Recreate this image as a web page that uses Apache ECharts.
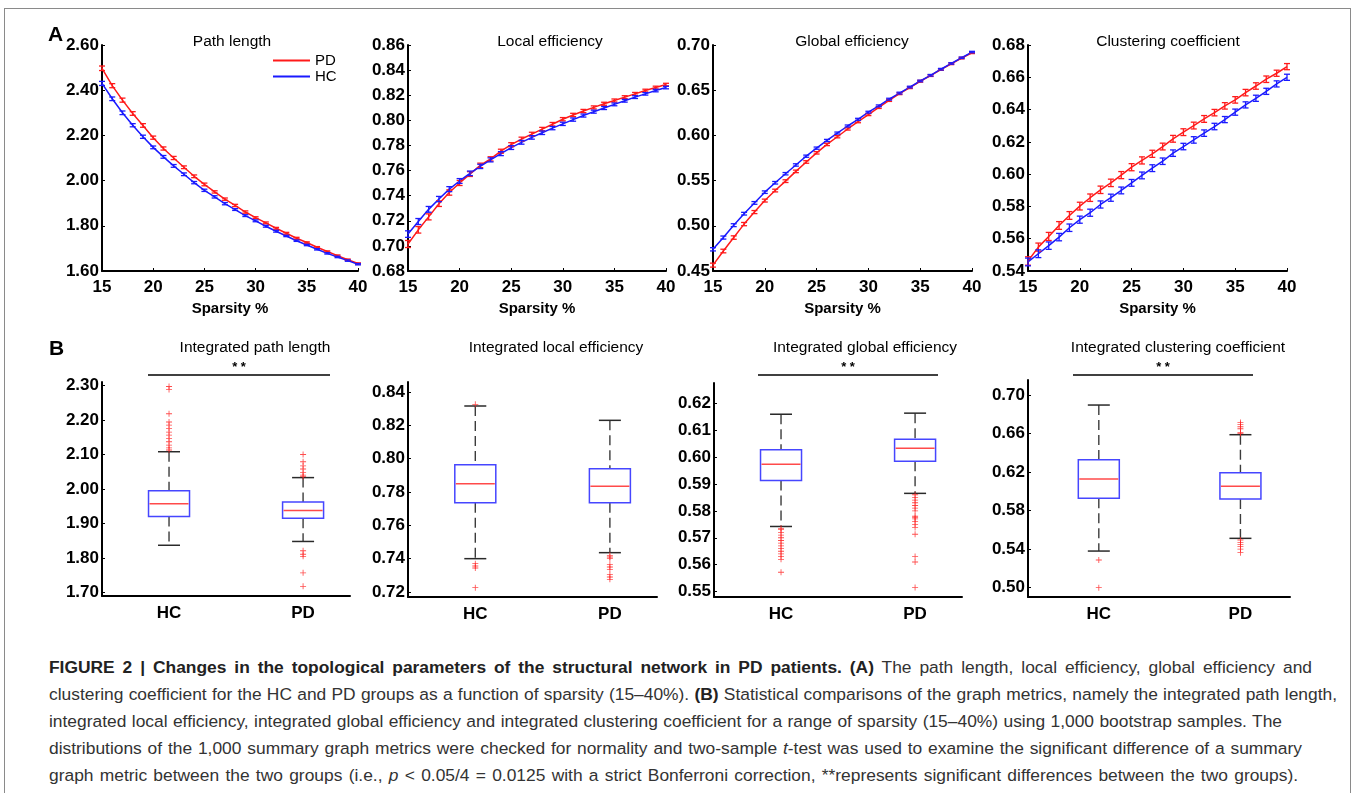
<!DOCTYPE html>
<html>
<head>
<meta charset="utf-8">
<script src="https://cdn.jsdelivr.net/npm/echarts@6/dist/echarts.min.js"></script>
<style>
html,body{margin:0;padding:0;background:#fff;}
#frame{position:absolute;left:4px;top:8px;width:1347px;height:900px;border:1px solid #8a8a8a;box-sizing:border-box;}
#chart{position:absolute;left:0;top:0;width:1355px;height:640px;}
#caption{position:absolute;left:49px;top:654px;font-family:"Liberation Sans",Arial,sans-serif;font-size:17.4px;line-height:27px;color:#333;white-space:nowrap;}
#caption b{color:#222;}
#caption .ln{display:inline-block;}
</style>
</head>
<body>
<div id="frame"></div>
<div id="chart"></div>
<div id="caption">
<span class="ln" data-r="1312"><b>FIGURE 2 | Changes in the topological parameters of the structural network in PD patients. (A)</b> The path length, local efficiency, global efficiency and</span><br>
<span class="ln" data-r="1337">clustering coefficient for the HC and PD groups as a function of sparsity (15–40%). <b>(B)</b> Statistical comparisons of the graph metrics, namely the integrated path length,</span><br>
<span class="ln" data-r="1282">integrated local efficiency, integrated global efficiency and integrated clustering coefficient for a range of sparsity (15–40%) using 1,000 bootstrap samples. The</span><br>
<span class="ln" data-r="1302">distributions of the 1,000 summary graph metrics were checked for normality and two-sample <i>t</i>-test was used to examine the significant difference of a summary</span><br>
<span class="ln" data-r="1298">graph metric between the two groups (i.e., <i>p</i> &lt; 0.05/4 = 0.0125 with a strict Bonferroni correction, **represents significant differences between the two groups).</span>
</div>
<script>
// ---------- DATA ----------
const sparsity = [15,16,17,18,19,20,21,22,23,24,25,26,27,28,29,30,31,32,33,34,35,36,37,38,39,40];
const groupNames = ['PD','HC'];

const pathPD = [2.497,2.420,2.356,2.297,2.244,2.190,2.142,2.100,2.059,2.019,1.983,1.950,1.918,1.890,1.861,1.836,1.813,1.789,1.767,1.745,1.726,1.705,1.686,1.668,1.650,1.633];
const pathHC = [2.430,2.362,2.300,2.245,2.194,2.147,2.105,2.065,2.028,1.991,1.957,1.928,1.898,1.872,1.845,1.822,1.798,1.776,1.755,1.734,1.715,1.696,1.678,1.662,1.646,1.630];
const pathErrPD = [0.010,0.009,0.009,0.008,0.008,0.007,0.007,0.007,0.006,0.006,0.006,0.005,0.005,0.005,0.005,0.004,0.004,0.004,0.004,0.004,0.003,0.003,0.003,0.003,0.003,0.003];
const pathErrHC = [0.009,0.008,0.008,0.007,0.007,0.006,0.006,0.006,0.006,0.005,0.005,0.005,0.005,0.004,0.004,0.004,0.004,0.004,0.003,0.003,0.003,0.003,0.003,0.003,0.003,0.003];

const locPD = [0.7015,0.7128,0.7231,0.7336,0.7425,0.7501,0.7572,0.7641,0.7693,0.7754,0.7806,0.7851,0.7890,0.7930,0.7969,0.8009,0.8043,0.8074,0.8103,0.8132,0.8158,0.8185,0.8211,0.8237,0.8261,0.8285];
const locHC = [0.7094,0.7194,0.7291,0.7373,0.7452,0.7517,0.7578,0.7633,0.7685,0.7735,0.7783,0.7825,0.7864,0.7901,0.7938,0.7972,0.8006,0.8038,0.8069,0.8098,0.8127,0.8156,0.8185,0.8211,0.8237,0.8261];
const locErrPD = [0.0028,0.0026,0.0024,0.0022,0.0021,0.0020,0.0019,0.0018,0.0017,0.0016,0.0016,0.0015,0.0015,0.0014,0.0014,0.0013,0.0013,0.0013,0.0012,0.0012,0.0012,0.0011,0.0011,0.0011,0.0011,0.0010];
const locErrHC = [0.0026,0.0024,0.0023,0.0021,0.0020,0.0019,0.0018,0.0017,0.0016,0.0016,0.0015,0.0015,0.0014,0.0014,0.0013,0.0013,0.0013,0.0012,0.0012,0.0012,0.0011,0.0011,0.0011,0.0010,0.0010,0.0010];

const globPD = [0.4565,0.4721,0.4870,0.5019,0.5152,0.5279,0.5390,0.5494,0.5602,0.5706,0.5807,0.5900,0.5985,0.6071,0.6152,0.6230,0.6309,0.6387,0.6461,0.6528,0.6599,0.6662,0.6729,0.6792,0.6855,0.6914];
const globHC = [0.4740,0.4870,0.5007,0.5134,0.5253,0.5372,0.5476,0.5576,0.5673,0.5770,0.5859,0.5944,0.6026,0.6104,0.6178,0.6257,0.6327,0.6401,0.6468,0.6535,0.6602,0.6665,0.6732,0.6796,0.6859,0.6922];
const globErrPD = [0.0022,0.0020,0.0019,0.0018,0.0017,0.0016,0.0015,0.0015,0.0014,0.0014,0.0013,0.0013,0.0012,0.0012,0.0012,0.0011,0.0011,0.0011,0.0010,0.0010,0.0010,0.0010,0.0009,0.0009,0.0009,0.0009];
const globErrHC = [0.0018,0.0017,0.0016,0.0015,0.0015,0.0014,0.0014,0.0013,0.0013,0.0012,0.0012,0.0012,0.0011,0.0011,0.0011,0.0010,0.0010,0.0010,0.0010,0.0009,0.0009,0.0009,0.0009,0.0008,0.0008,0.0008];

const clusPD = [0.5462,0.5548,0.5614,0.5682,0.5744,0.5802,0.5854,0.5903,0.5946,0.5994,0.6043,0.6085,0.6126,0.6171,0.6219,0.6260,0.6301,0.6342,0.6381,0.6423,0.6460,0.6505,0.6546,0.6588,0.6625,0.6666];
const clusHC = [0.5456,0.5507,0.5557,0.5610,0.5668,0.5718,0.5761,0.5812,0.5854,0.5899,0.5946,0.5992,0.6037,0.6080,0.6130,0.6171,0.6212,0.6254,0.6295,0.6338,0.6384,0.6429,0.6470,0.6513,0.6559,0.6600];
const clusErrPD = [0.0026,0.0025,0.0025,0.0024,0.0024,0.0024,0.0023,0.0023,0.0023,0.0022,0.0022,0.0022,0.0022,0.0021,0.0021,0.0021,0.0021,0.0021,0.0020,0.0020,0.0020,0.0020,0.0020,0.0020,0.0019,0.0019];
const clusErrHC = [0.0024,0.0024,0.0023,0.0023,0.0023,0.0022,0.0022,0.0022,0.0022,0.0021,0.0021,0.0021,0.0021,0.0020,0.0020,0.0020,0.0020,0.0020,0.0020,0.0019,0.0019,0.0019,0.0019,0.0019,0.0019,0.0019];

const boxGroups = ['HC','PD'];
// [lower whisker, Q1, median, Q3, upper whisker] for HC, PD
const pathBox = [[1.837,1.920,1.957,1.995,2.108],[1.848,1.915,1.938,1.962,2.033]];
const pathOutHC = [2.297,2.288,2.218,2.194,2.185,2.175,2.165,2.156,2.146,2.137,2.127,2.119,2.113];
const pathOutPD = [2.100,2.079,2.067,2.058,2.048,2.040,2.036,1.821,1.811,1.805,1.757,1.718];
const locBox = [[0.7400,0.7736,0.7850,0.7964,0.8316],[0.7436,0.7736,0.7834,0.7940,0.8230]];
const locOutHC = [0.8326,0.7370,0.7356,0.7344,0.7226];
const locOutPD = [0.7420,0.7410,0.7400,0.7364,0.7350,0.7336,0.7304,0.7290,0.7276];
const globBox = [[0.5742,0.5913,0.5973,0.6027,0.6159],[0.5865,0.5984,0.6033,0.6066,0.6163]];
const globOutHC = [0.5735,0.5730,0.5720,0.5710,0.5700,0.5690,0.5680,0.5670,0.5660,0.5650,0.5640,0.5630,0.5620,0.5572];
const globOutPD = [0.5860,0.5850,0.5840,0.5830,0.5820,0.5810,0.5800,0.5780,0.5775,0.5770,0.5760,0.5750,0.5738,0.5713,0.5630,0.5610,0.5515];
const clusBox = [[0.5380,0.5927,0.6128,0.6329,0.6896],[0.5512,0.5920,0.6052,0.6194,0.6588]];
const clusOutHC = [0.5287,0.5000];
const clusOutPD = [0.6716,0.6696,0.6671,0.6650,0.6610,0.6600,0.5495,0.5470,0.5450,0.5426,0.5400,0.5363];

const pathTicks = [1.70,1.80,1.90,2.00,2.10,2.20,2.30];
const locTicks = [0.72,0.74,0.76,0.78,0.80,0.82,0.84];
const globTicks = [0.55,0.56,0.57,0.58,0.59,0.60,0.61,0.62];
const clusTicks = [0.50,0.54,0.58,0.62,0.66,0.70];

// ---------- LAYOUT ----------
const FONT = '"Liberation Sans", Arial, sans-serif';
const RED = '#ff1a1a', BLUE = '#1a1aff';

const linePanels = [
  {title:'Path length', left:102, width:256, min:1.6, max:2.6, interval:0.2, pd:pathPD, hc:pathHC, epd:pathErrPD, ehc:pathErrHC, tx:227},
  {title:'Local efficiency', left:408, width:258, min:0.68, max:0.86, interval:0.02, pd:locPD, hc:locHC, epd:locErrPD, ehc:locErrHC, tx:545},
  {title:'Global efficiency', left:713, width:259, min:0.45, max:0.70, interval:0.05, pd:globPD, hc:globHC, epd:globErrPD, ehc:globErrHC, tx:847},
  {title:'Clustering coefficient', left:1028, width:259, min:0.54, max:0.68, interval:0.02, pd:clusPD, hc:clusHC, epd:clusErrPD, ehc:clusErrHC, tx:1163}
];
const boxPanels = [
  {title:'Integrated path length', left:102, width:248, top:382, height:214, min:1.69, max:2.31, ticks:pathTicks, box:pathBox, oh:pathOutHC, op:pathOutPD, tx:250, sig:[148,330]},
  {title:'Integrated local efficiency', left:408, width:249, top:382, height:215, min:0.717, max:0.846, ticks:locTicks, box:locBox, oh:locOutHC, op:locOutPD, tx:551, sig:null},
  {title:'Integrated global efficiency', left:714, width:248, top:383, height:214, min:0.548, max:0.6275, ticks:globTicks, box:globBox, oh:globOutHC, op:globOutPD, tx:860, sig:[758,938]},
  {title:'Integrated clustering coefficient', left:1028, width:262, top:380, height:217, min:0.4903, max:0.7156, ticks:clusTicks, box:clusBox, oh:clusOutHC, op:clusOutPD, tx:1173, sig:[1073,1253]}
];

const grids = [], xAxes = [], yAxes = [], series = [], titles = [], graphics = [];
const axisLineStyle = {show:true, lineStyle:{color:'#000', width:2}};
const labelStyle = {color:'#000', fontFamily:FONT, fontSize:17, fontWeight:'bold'};

function errRender(color){
  return function(params, api){
    const x = api.value(0), y = api.value(1), e = api.value(2);
    const t = api.coord([x, y + e]), b = api.coord([x, y - e]);
    const w = 3;
    const st = {stroke:color, lineWidth:1.3};
    return {type:'group', children:[
      {type:'line', shape:{x1:t[0], y1:t[1], x2:b[0], y2:b[1]}, style:st},
      {type:'line', shape:{x1:t[0]-w, y1:t[1], x2:t[0]+w, y2:t[1]}, style:st},
      {type:'line', shape:{x1:b[0]-w, y1:b[1], x2:b[0]+w, y2:b[1]}, style:st}
    ]};
  };
}

linePanels.forEach((p, i) => {
  grids.push({left:p.left, top:45, width:p.width, height:226});
  xAxes.push({type:'value', gridIndex:i, min:15, max:40, interval:5,
    name:'Sparsity %', nameLocation:'middle', nameGap:30,
    nameTextStyle:{color:'#000', fontFamily:FONT, fontSize:15, fontWeight:'bold'},
    axisLine:axisLineStyle, axisTick:{show:true, inside:true, length:3, lineStyle:{color:'#000'}},
    splitLine:{show:false}, axisLabel:Object.assign({margin:8}, labelStyle)});
  yAxes.push({type:'value', gridIndex:i, min:p.min, max:p.max, interval:p.interval,
    axisLine:axisLineStyle, axisTick:{show:true, inside:true, length:3, lineStyle:{color:'#000'}},
    splitLine:{show:false}, axisLabel:Object.assign({margin:3, formatter:v => v.toFixed(2)}, labelStyle)});
  titles.push({text:p.title, left:p.tx, top:29, textAlign:'center',
    textStyle:{color:'#000', fontFamily:FONT, fontSize:15.5, fontWeight:'normal'}});
  [['PD', p.pd, p.epd, RED], ['HC', p.hc, p.ehc, BLUE]].forEach(([nm, vals, errs, col]) => {
    series.push({type:'line', name:nm, xAxisIndex:i, yAxisIndex:i, showSymbol:false, symbol:'none',
      data: sparsity.map((s, k) => [s, vals[k]]), lineStyle:{color:col, width:1.5}, itemStyle:{color:col},
      silent:true, z:3});
    series.push({type:'custom', name:nm + ' error', xAxisIndex:i, yAxisIndex:i, renderItem:errRender(col),
      data: sparsity.map((s, k) => [s, vals[k], errs[k]]), encode:{x:0, y:1}, silent:true, z:4});
  });
});

function boxRender(params, api){
  const x = api.value(0);
  const lo = api.coord([x, api.value(1)]), q1 = api.coord([x, api.value(2)]),
        md = api.coord([x, api.value(3)]), q3 = api.coord([x, api.value(4)]), hi = api.coord([x, api.value(5)]);
  const cx = lo[0], hw = 20.5, cw = 11;
  const dash = {stroke:'#3c3c3c', lineWidth:1.4, lineDash:[10,5]};
  const cap = {stroke:'#2a2a2a', lineWidth:1.5};
  return {type:'group', children:[
    {type:'line', shape:{x1:cx, y1:hi[1], x2:cx, y2:q3[1]}, style:dash},
    {type:'line', shape:{x1:cx, y1:q1[1], x2:cx, y2:lo[1]}, style:dash},
    {type:'line', shape:{x1:cx-cw, y1:hi[1], x2:cx+cw, y2:hi[1]}, style:cap},
    {type:'line', shape:{x1:cx-cw, y1:lo[1], x2:cx+cw, y2:lo[1]}, style:cap},
    {type:'rect', shape:{x:cx-hw, y:q3[1], width:2*hw, height:q1[1]-q3[1]}, style:{fill:'#fff', stroke:'#4646ff', lineWidth:1.5}},
    {type:'line', shape:{x1:cx-hw+1, y1:md[1], x2:cx+hw-1, y2:md[1]}, style:{stroke:'#ff4a4a', lineWidth:1.5}}
  ]};
}
const plusPath = 'path://M4.3,0 L5.7,0 L5.7,4.3 L10,4.3 L10,5.7 L5.7,5.7 L5.7,10 L4.3,10 L4.3,5.7 L0,5.7 L0,4.3 L4.3,4.3 Z';

boxPanels.forEach((p, j) => {
  const i = j + 4;
  grids.push({left:p.left, top:p.top, width:p.width, height:p.height});
  xAxes.push({type:'value', gridIndex:i, min:0.5, max:2.35,
    axisLine:axisLineStyle, axisTick:{show:false}, splitLine:{show:false},
    axisLabel:Object.assign({margin:9, customValues:[1,2], formatter:v => boxGroups[Math.round(v)-1] || ''}, labelStyle)});
  yAxes.push({type:'value', gridIndex:i, min:p.min, max:p.max,
    axisLine:axisLineStyle, axisTick:{show:true, inside:true, length:3, customValues:p.ticks, lineStyle:{color:'#000'}},
    splitLine:{show:false},
    axisLabel:Object.assign({margin:3, customValues:p.ticks, formatter:v => v.toFixed(2)}, labelStyle)});
  titles.push({text:p.title, left:p.tx, top:335, textAlign:'center',
    textStyle:{color:'#000', fontFamily:FONT, fontSize:15.5, fontWeight:'normal'}});
  series.push({type:'custom', name:'box' + j, xAxisIndex:i, yAxisIndex:i, renderItem:boxRender,
    data: p.box.map((b, k) => [k + 1].concat(b)), encode:{x:0, y:[1,2,3,4,5]}, silent:true, z:3});
  series.push({type:'scatter', name:'outliers' + j, xAxisIndex:i, yAxisIndex:i, symbol:plusPath, symbolSize:6,
    itemStyle:{color:'#ff2020'}, silent:true, z:5,
    data: p.oh.map(v => [1, v]).concat(p.op.map(v => [2, v]))});
  if (p.sig) {
    graphics.push({type:'line', shape:{x1:p.sig[0], y1:375, x2:p.sig[1], y2:375}, style:{stroke:'#000', lineWidth:1.5}});
    graphics.push({type:'text', x:(p.sig[0] + p.sig[1]) / 2, y:367, style:{text:'* *', font:'bold 13px ' + FONT, fill:'#000', align:'center', verticalAlign:'middle'}});
  }
});

graphics.push({type:'text', x:48, y:35, style:{text:'A', font:'bold 21px ' + FONT, fill:'#000', verticalAlign:'middle'}});
graphics.push({type:'text', x:49, y:349, style:{text:'B', font:'bold 21px ' + FONT, fill:'#000', verticalAlign:'middle'}});

const chart = echarts.init(document.getElementById('chart'), null, {renderer:'canvas'});
chart.setOption({
  backgroundColor:'transparent',
  animation:false,
  title:titles,
  legend:{data:groupNames, left:268, top:48, orient:'vertical', itemWidth:37, itemHeight:2, itemGap:1,
    icon:'rect', selectedMode:false,
    textStyle:{color:'#000', fontFamily:FONT, fontSize:15, lineHeight:15}},
  grid:grids, xAxis:xAxes, yAxis:yAxes, series:series, graphic:graphics
});

// stretch each caption line to the width it has in the figure
document.querySelectorAll('#caption .ln').forEach(el => {
  const target = parseFloat(el.dataset.r);
  const r = el.getBoundingClientRect().right;
  const spaces = (el.textContent.match(/ /g) || []).length;
  if (spaces > 0) el.style.wordSpacing = ((target - r) / spaces).toFixed(3) + 'px';
});
</script>
</body>
</html>
